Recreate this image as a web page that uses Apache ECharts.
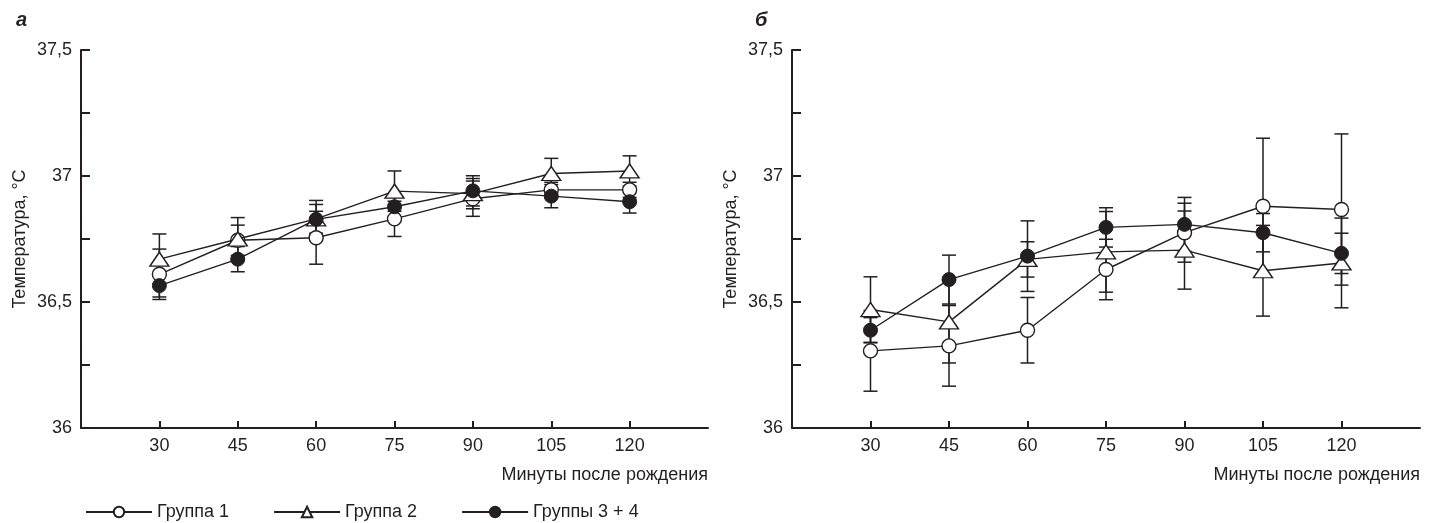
<!DOCTYPE html>
<html>
<head>
<meta charset="utf-8">
<script src="https://cdn.jsdelivr.net/npm/echarts@6/dist/echarts.min.js"></script>
<style>
html,body{margin:0;padding:0;background:#fff;}
#c{width:1439px;height:523px;}
</style>
</head>
<body>
<div id="c"></div>
<script>
// ---- data ----
const minutes = [30, 45, 60, 75, 90, 105, 120];
const seriesNames = ['Группа 1', 'Группа 2', 'Группы 3 + 4'];
const yTicks = [36, 36.5, 37, 37.5];

// panel а
const g1A = [36.61, 36.745, 36.755, 36.83, 36.91, 36.945, 36.945];
const g1AErr = [0.10, 0.06, 0.105, 0.07, 0.07, 0.03, 0.03];
const g2A = [36.67, 36.75, 36.83, 36.94, 36.93, 37.01, 37.02];
const g2AErr = [0.10, 0.085, 0.057, 0.08, 0.06, 0.06, 0.06];
const g34A = [36.565, 36.67, 36.828, 36.878, 36.941, 36.92, 36.898];
const g34AErr = [0.045, 0.05, 0.075, 0.04, 0.06, 0.046, 0.045];

// panel б
const g1B = [36.306, 36.326, 36.388, 36.629, 36.775, 36.88, 36.867];
const g1BErr = [0.16, 0.16, 0.13, 0.12, 0.117, 0.27, 0.30];
const g2B = [36.47, 36.421, 36.669, 36.699, 36.706, 36.624, 36.655];
const g2BErr = [0.13, 0.163, 0.07, 0.16, 0.155, 0.18, 0.178];
const g34B = [36.388, 36.589, 36.682, 36.796, 36.808, 36.775, 36.693];
const g34BErr = [0.05, 0.097, 0.14, 0.078, 0.107, 0.076, 0.08];

// ---- chart ----
const FONT = "'Liberation Sans Narrow', 'Liberation Sans', Arial, sans-serif";
const INK = '#231f20';
const FS = 18;

const chart = echarts.init(document.getElementById('c'), null, {renderer: 'canvas'});

function xAxisDef(gi) {
  return {
    type: 'value', gridIndex: gi, min: 15, max: 135, interval: 15,
    name: 'Минуты после рождения', nameLocation: 'end', nameGap: 0,
    nameTextStyle: {fontFamily: FONT, fontSize: FS, color: INK, align: 'right', verticalAlign: 'top', padding: [38, 0, 0, 0]},
    axisLine: {show: true, onZero: false, lineStyle: {color: INK, width: 2}},
    axisTick: {show: true, inside: true, length: 7, customValues: minutes, lineStyle: {color: INK, width: 2}},
    axisLabel: {show: true, customValues: minutes, margin: 9, fontFamily: FONT, fontSize: FS, color: INK},
    splitLine: {show: false}
  };
}
function yAxisDef(gi) {
  return {
    type: 'value', gridIndex: gi, min: 36, max: 37.5, interval: 0.5,
    name: 'Температура, °C', nameLocation: 'middle', nameGap: 52, nameRotate: 90,
    nameTextStyle: {fontFamily: FONT, fontSize: FS, color: INK},
    axisLine: {show: true, lineStyle: {color: INK, width: 2}},
    axisTick: {show: true, inside: true, length: 9, lineStyle: {color: INK, width: 2}},
    minorTick: {show: true, splitNumber: 2, length: 9, lineStyle: {color: INK, width: 2}},
    axisLabel: {show: true, margin: 9, fontFamily: FONT, fontSize: FS, color: INK, padding: [5, 0, 0, 0],
      formatter: v => String(v).replace('.', ',')},
    splitLine: {show: false}, minorSplitLine: {show: false}
  };
}

function errData(mean, err) {
  return minutes.map((m, i) => [m, mean[i] - err[i], mean[i] + err[i]]);
}
function errSeries(gi, mean, err) {
  return {
    type: 'custom', xAxisIndex: gi, yAxisIndex: gi, z: 1, silent: true,
    data: errData(mean, err),
    renderItem: function (params, api) {
      const x = api.value(0), lo = api.value(1), hi = api.value(2);
      const pt = api.coord([x, hi]), pb = api.coord([x, lo]);
      const w = 7;
      const st = {stroke: INK, lineWidth: 1.5};
      return {type: 'group', children: [
        {type: 'line', shape: {x1: pt[0], y1: pt[1], x2: pb[0], y2: pb[1]}, style: st},
        {type: 'line', shape: {x1: pt[0] - w, y1: pt[1], x2: pt[0] + w, y2: pt[1]}, style: st},
        {type: 'line', shape: {x1: pb[0] - w, y1: pb[1], x2: pb[0] + w, y2: pb[1]}, style: st}
      ]};
    }
  };
}
const symbolDefs = [
  {symbol: 'circle', symbolSize: 14, itemStyle: {color: '#fff', borderColor: INK, borderWidth: 1.4}},
  {symbol: 'triangle', symbolSize: [19, 14], itemStyle: {color: '#fff', borderColor: INK, borderWidth: 1.4}},
  {symbol: 'circle', symbolSize: 14, itemStyle: {color: INK, borderColor: INK, borderWidth: 1}}
];
function lineSeries(gi, idx, vals) {
  const s = symbolDefs[idx];
  return {
    type: 'line', name: seriesNames[idx], xAxisIndex: gi, yAxisIndex: gi, z: 3 + idx,
    data: minutes.map((m, i) => [m, vals[i]]),
    symbol: s.symbol, symbolSize: s.symbolSize, showAllSymbol: true,
    itemStyle: s.itemStyle,
    lineStyle: {color: INK, width: 1.4},
    emphasis: {disabled: true}, animation: false
  };
}

const option = {
  animation: false,
  backgroundColor: '#fff',
  textStyle: {fontFamily: FONT},
  title: [
    {text: 'а', left: 11, top: 5, textStyle: {fontFamily: FONT, fontSize: 20, fontWeight: 'bold', fontStyle: 'italic', color: INK}},
    {text: 'б', left: 750, top: 5, textStyle: {fontFamily: FONT, fontSize: 20, fontWeight: 'bold', fontStyle: 'italic', color: INK}}
  ],
  grid: [
    {left: 81, top: 50, width: 627, height: 378},
    {left: 792, top: 50, width: 628, height: 378}
  ],
  xAxis: [xAxisDef(0), xAxisDef(1)],
  yAxis: [yAxisDef(0), yAxisDef(1)],
  legend: {
    data: seriesNames, left: 85, top: 503, padding: 0, itemWidth: 66, itemHeight: 13, itemGap: 44,
    textStyle: {fontFamily: FONT, fontSize: FS, color: INK}, selectedMode: false
  },
  series: [
    errSeries(0, g1A, g1AErr), errSeries(0, g2A, g2AErr), errSeries(0, g34A, g34AErr),
    errSeries(1, g1B, g1BErr), errSeries(1, g2B, g2BErr), errSeries(1, g34B, g34BErr),
    lineSeries(0, 0, g1A), lineSeries(0, 1, g2A), lineSeries(0, 2, g34A),
    lineSeries(1, 0, g1B), lineSeries(1, 1, g2B), lineSeries(1, 2, g34B)
  ]
};
chart.setOption(option);
</script>
</body>
</html>
